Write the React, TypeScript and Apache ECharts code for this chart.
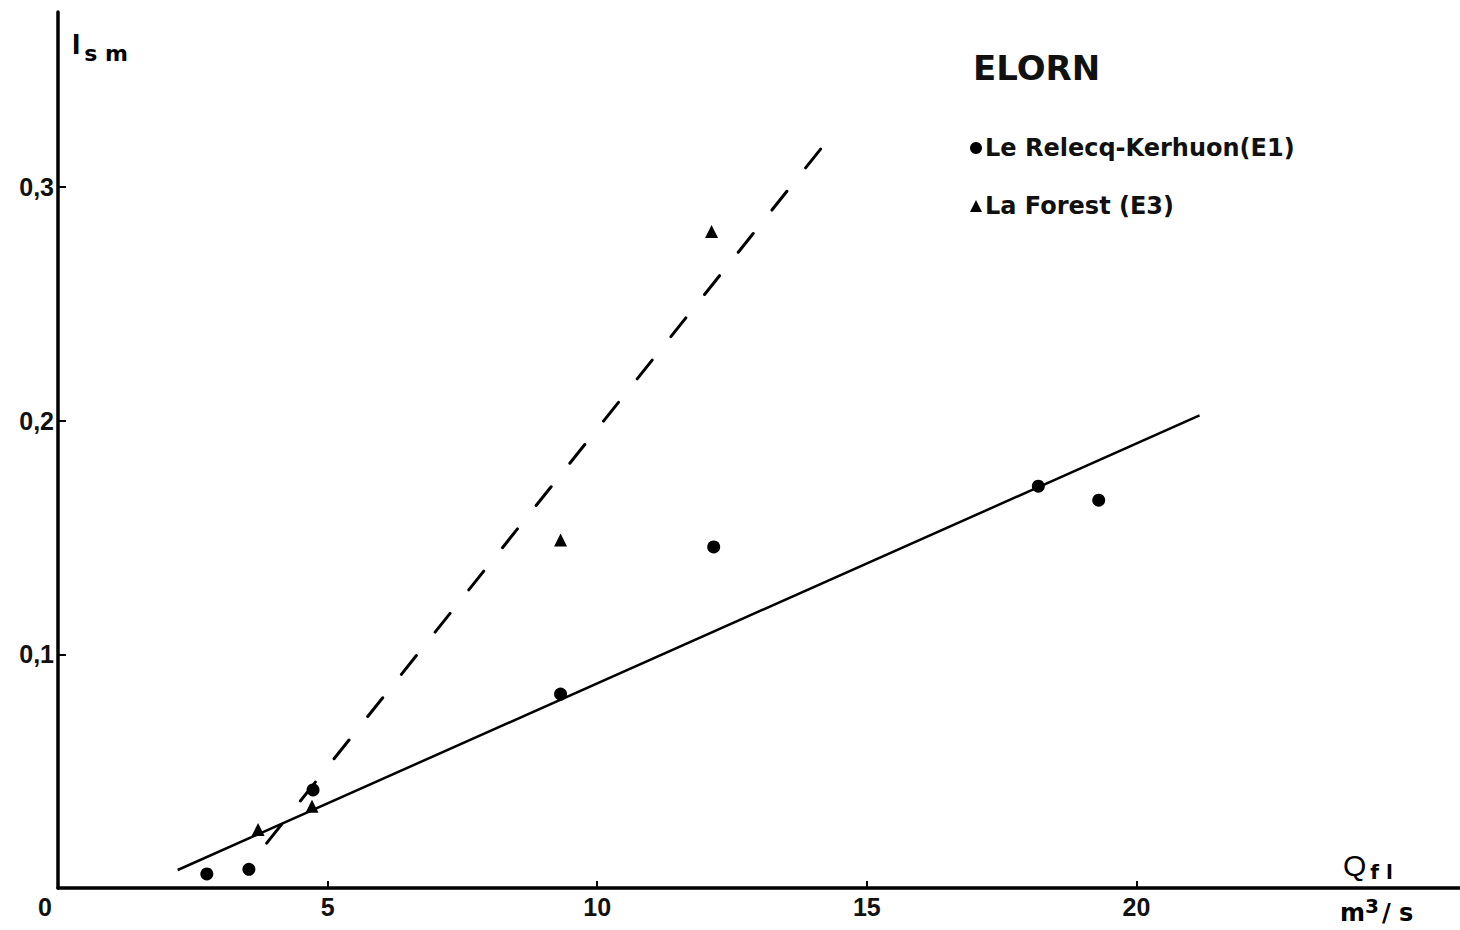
import React, { useEffect, useRef } from "react";
import * as echarts from "echarts";

// Discharge Q_fl (m3/s) vs I_sm
const e1Q = [2.76, 3.54, 4.73, 9.32, 12.16, 18.18, 19.3];
const e1I = [0.006, 0.008, 0.042, 0.083, 0.146, 0.172, 0.166];
const e3Q = [3.71, 4.71, 9.32, 12.12];
const e3I = [0.025, 0.035, 0.149, 0.281];
// fitted lines (end points)
const fitE1Q = [2.22, 21.17];
const fitE1I = [0.0077, 0.2023];
const fitE3Q = [3.87, 14.2];
const fitE3I = [0.0192, 0.318];

const xTicks = [0, 5, 10, 15, 20];
const yTicks = [0.1, 0.2, 0.3];

const FONT = "'Liberation Sans', Arial, sans-serif";
const WIDE = "'DejaVu Sans', sans-serif";

export default function App() {
  const ref = useRef<HTMLDivElement>(null);
  useEffect(() => {
    const chart = echarts.init(ref.current!, null, { renderer: "svg" });
    const pairs = (a: number[], b: number[]) => a.map((v, i) => [v, b[i]]);
    chart.setOption({
      animation: false,
      backgroundColor: "#fff",
      title: {
        text: "ELORN",
        left: 968,
        top: 46,
        textStyle: { fontFamily: WIDE, fontSize: 34, fontWeight: "bold", color: "#111" },
      },
      legend: {
        orient: "vertical",
        left: 965,
        top: 131,
        itemGap: 34,
        itemWidth: 12,
        itemHeight: 12,
        data: [
          { name: "Le Relecq-Kerhuon(E1)", icon: "circle" },
          { name: "La Forest (E3)", icon: "triangle" },
        ],
        textStyle: { fontFamily: WIDE, fontSize: 24, fontWeight: "bold", color: "#111", padding: [0, 0, 0, -2] },
      },
      grid: { left: 58, right: 0, top: 12, bottom: 42 },
      xAxis: {
        type: "value",
        min: 0,
        max: 26,
        interval: 5,
        splitLine: { show: false },
        axisLine: { lineStyle: { color: "#000", width: 3.5 } },
        axisTick: {
          inside: true,
          length: 7,
          customValues: xTicks.slice(1),
          lineStyle: { color: "#000", width: 2 },
        },
        axisLabel: {
          fontFamily: FONT,
          fontSize: 25,
          fontWeight: "bold",
          color: "#111",
          margin: 6,
          customValues: xTicks,
          formatter: (v: number) => (v === 0 ? "{z|0}" : xTicks.includes(v) ? String(v) : ""),
          rich: {
            z: { fontFamily: FONT, fontSize: 25, fontWeight: "bold", color: "#111", padding: [0, 26, 0, 0] },
          },
        },
      },
      yAxis: {
        type: "value",
        min: 0,
        max: 0.375,
        interval: 0.1,
        splitLine: { show: false },
        axisLine: { lineStyle: { color: "#000", width: 3.5 } },
        axisTick: {
          inside: true,
          length: 8,
          customValues: yTicks,
          lineStyle: { color: "#000", width: 2 },
        },
        axisLabel: {
          fontFamily: FONT,
          fontSize: 25,
          fontWeight: "bold",
          color: "#111",
          margin: 4,
          customValues: yTicks,
          formatter: (v: number) => {
            const r = Math.round(v * 10) / 10;
            return yTicks.some((t) => Math.abs(t - r) < 1e-9) && Math.abs(v - r) < 1e-6
              ? r.toFixed(1).replace(".", ",")
              : "";
          },
        },
      },
      graphic: [
        {
          type: "text",
          left: 72,
          top: 28,
          style: {
            text: "{a|I}{b|s m}",
            rich: {
              a: { fontFamily: FONT, fontSize: 30, fontWeight: "bold", color: "#111" },
              b: { fontFamily: WIDE, fontSize: 22, fontWeight: "bold", color: "#111", padding: [20, 0, 0, 4] },
            },
          },
        },
        {
          type: "text",
          left: 1343,
          top: 850,
          style: {
            text: "{a|Q}{b|f l}",
            rich: {
              a: { fontFamily: FONT, fontSize: 30, color: "#111" },
              b: { fontFamily: WIDE, fontSize: 20, fontWeight: "bold", color: "#111", padding: [14, 0, 0, 4] },
            },
          },
        },
        {
          type: "text",
          left: 1340,
          top: 896,
          style: {
            text: "{a|m}{b|3}{a|/ s}",
            rich: {
              a: { fontFamily: WIDE, fontSize: 24, fontWeight: "bold", color: "#111", padding: [8, 0, 0, 0] },
              b: { fontFamily: WIDE, fontSize: 20, fontWeight: "bold", color: "#111", padding: [0, 3, 6, 0] },
            },
          },
        },
      ],
      series: [
        {
          name: "Le Relecq-Kerhuon(E1)",
          type: "scatter",
          symbol: "circle",
          symbolSize: 13,
          itemStyle: { color: "#000", opacity: 1 },
          data: pairs(e1Q, e1I),
          z: 5,
        },
        {
          name: "La Forest (E3)",
          type: "scatter",
          symbol: "triangle",
          symbolSize: 13,
          itemStyle: { color: "#000", opacity: 1 },
          data: pairs(e3Q, e3I),
          z: 5,
        },
        {
          name: "fit E1",
          type: "line",
          symbol: "none",
          silent: true,
          lineStyle: { color: "#000", width: 2.5 },
          data: pairs(fitE1Q, fitE1I),
        },
        {
          name: "fit E3",
          type: "line",
          symbol: "none",
          silent: true,
          lineStyle: { color: "#000", width: 3, type: [24, 30], cap: "round" },
          data: pairs(fitE3Q, fitE3I),
        },
      ],
    });
    return () => chart.dispose();
  }, []);
  return (
    <div
      ref={ref}
      style={{ position: "absolute", left: 0, top: 0, width: 1460, height: 930, background: "#fff" }}
    />
  );
}
